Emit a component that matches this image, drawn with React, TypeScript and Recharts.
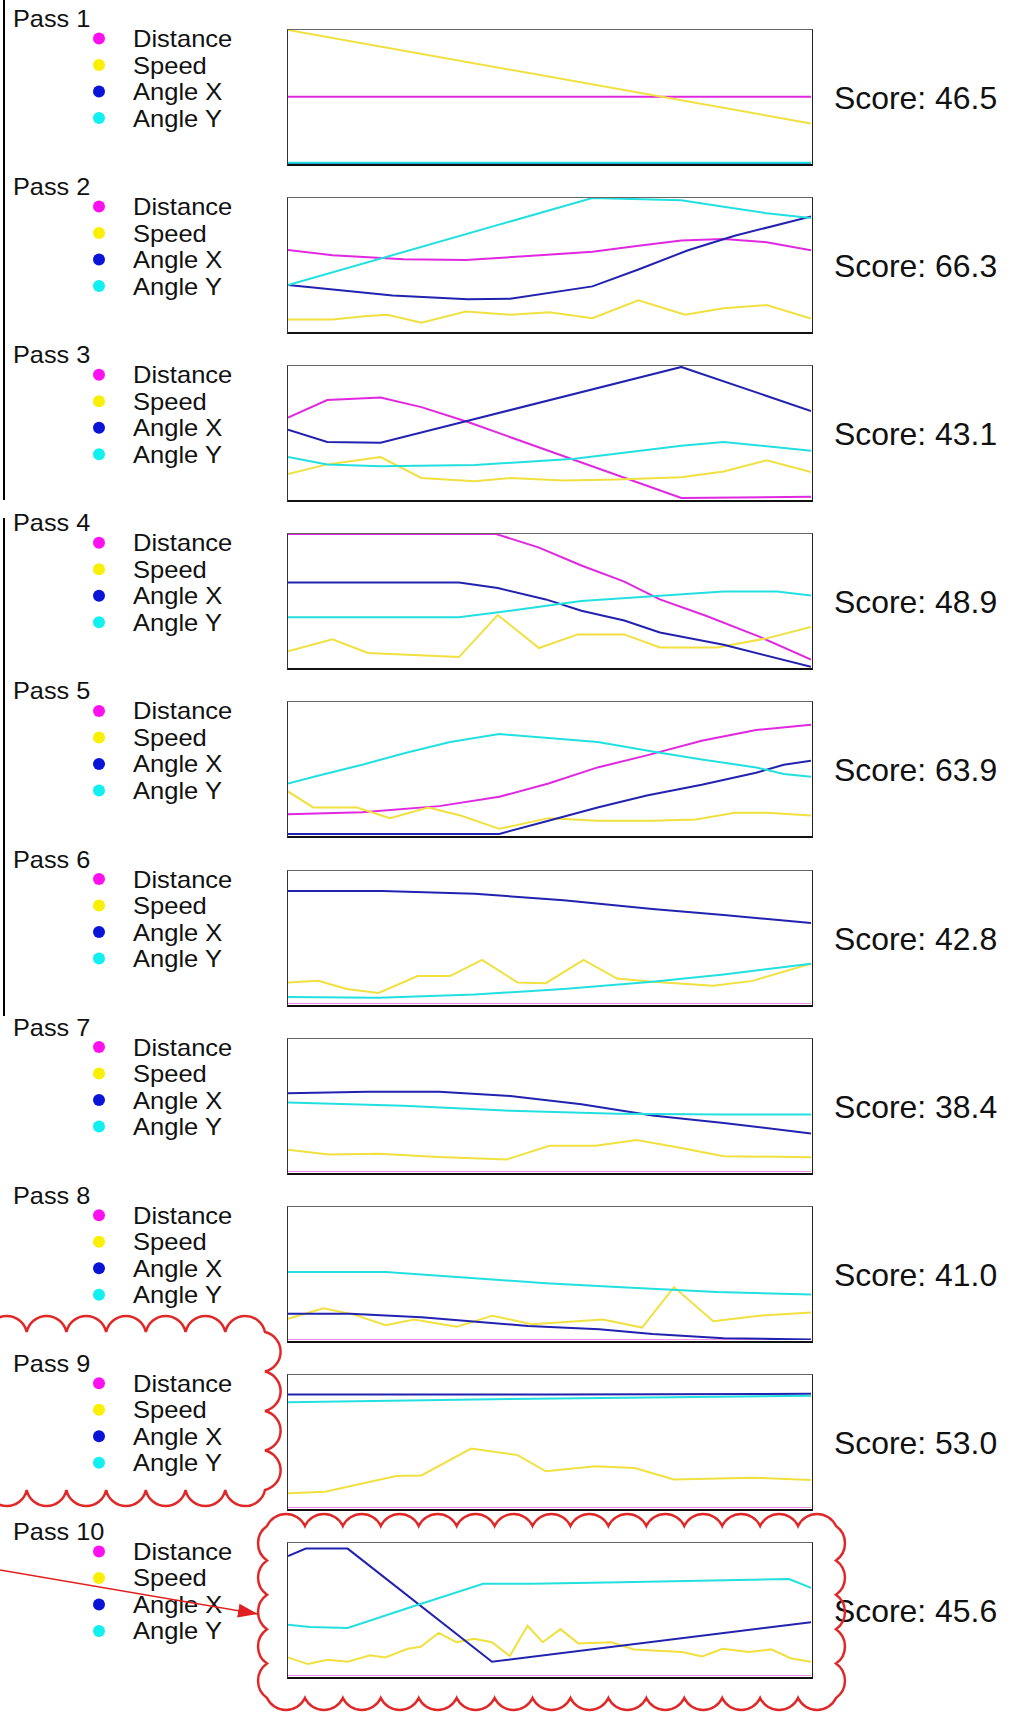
import React from 'react'
import { LineChart, Line, XAxis, YAxis } from 'recharts'

type Pt = [number, number]

// time is in percent of the pass, values are normalised 0..1
const passLabels = ['Pass 1', 'Pass 2', 'Pass 3', 'Pass 4', 'Pass 5', 'Pass 6', 'Pass 7', 'Pass 8', 'Pass 9', 'Pass 10']
const scores = [46.5, 66.3, 43.1, 48.9, 63.9, 42.8, 38.4, 41.0, 53.0, 45.6]
const seriesNames = ['Distance', 'Speed', 'Angle X', 'Angle Y']

const p1Distance: Pt[] = [[0, 0.5], [100, 0.5]]
const p1Speed: Pt[] = [[0, 1.0], [100, 0.3]]
const p1AngleX: Pt[] = [[0, 0], [100, 0]]
const p1AngleY: Pt[] = [[0, 0.005], [100, 0.005]]

const p2Distance: Pt[] = [[0, 0.61], [8.5, 0.572], [22.1, 0.541], [34, 0.536], [45.9, 0.565], [58.2, 0.597], [66.3, 0.638], [75.2, 0.681], [83.3, 0.693], [91.5, 0.669], [100, 0.609]]
const p2Speed: Pt[] = [[0, 0.089], [8.5, 0.089], [14.6, 0.114], [19, 0.126], [25.5, 0.065], [34, 0.15], [42.5, 0.126], [50, 0.145], [58.2, 0.1], [67, 0.234], [75.9, 0.126], [83.3, 0.174], [91.5, 0.198], [100, 0.097]]
const p2AngleX: Pt[] = [[0, 0.348], [20, 0.27], [34.4, 0.242], [42.5, 0.246], [58.2, 0.338], [67, 0.464], [76.5, 0.609], [85.4, 0.717], [100, 0.862]]
const p2AngleY: Pt[] = [[0, 0.348], [58.2, 1.0], [75.2, 0.983], [83.3, 0.935], [91.5, 0.886], [100, 0.85]]

const p3Distance: Pt[] = [[0, 0.614], [7.5, 0.745], [17.7, 0.764], [25.5, 0.692], [34.4, 0.58], [75.2, 0.012], [100, 0.02]]
const p3Speed: Pt[] = [[0, 0.19], [7.5, 0.263], [17.7, 0.318], [25.5, 0.161], [35.7, 0.137], [42.5, 0.161], [52.7, 0.142], [62.9, 0.15], [75.2, 0.166], [83.3, 0.21], [91.5, 0.294], [100, 0.205]]
const p3AngleX: Pt[] = [[0, 0.523], [7.5, 0.431], [17.7, 0.426], [34.4, 0.59], [75.2, 0.993], [100, 0.663]]
const p3AngleY: Pt[] = [[0, 0.318], [7.5, 0.263], [17.7, 0.25], [35.7, 0.258], [54.8, 0.306], [75.2, 0.402], [83.3, 0.431], [100, 0.366]]

const p4Distance: Pt[] = [[0, 1], [39.8, 1], [48, 0.898], [56.1, 0.764], [64.3, 0.643], [71.1, 0.51], [79.9, 0.388], [90.1, 0.231], [100, 0.06]]
const p4Speed: Pt[] = [[0, 0.121], [8.5, 0.211], [15.3, 0.109], [32.7, 0.078], [40.1, 0.393], [48, 0.146], [55.4, 0.248], [64.3, 0.248], [71.1, 0.15], [82, 0.15], [91.5, 0.218], [100, 0.303]]
const p4AngleX: Pt[] = [[0, 0.636], [32.7, 0.636], [40.1, 0.595], [49.3, 0.51], [56.1, 0.425], [64.3, 0.352], [71.1, 0.262], [83.3, 0.17], [100, 0.005]]
const p4AngleY: Pt[] = [[0, 0.376], [32.7, 0.376], [42.5, 0.425], [56.1, 0.498], [69.7, 0.534], [83.3, 0.57], [93.5, 0.57], [100, 0.539]]

const p5Distance: Pt[] = [[0, 0.16], [14.2, 0.175], [28.9, 0.22], [40.4, 0.29], [49.8, 0.39], [59.2, 0.51], [68.6, 0.6], [79.1, 0.71], [89.5, 0.79], [100, 0.83]]
const p5Speed: Pt[] = [[0, 0.33], [4.8, 0.21], [13.2, 0.21], [19.5, 0.13], [26.8, 0.21], [33, 0.15], [40.4, 0.05], [49.8, 0.13], [59.2, 0.11], [69.7, 0.11], [78, 0.12], [85.4, 0.17], [91.6, 0.17], [100, 0.15]]
const p5AngleX: Pt[] = [[0, 0.012], [40.4, 0.012], [49.8, 0.11], [59.2, 0.21], [68.6, 0.3], [79.1, 0.38], [89.5, 0.47], [94.8, 0.53], [100, 0.56]]
const p5AngleY: Pt[] = [[0, 0.39], [5.9, 0.45], [14.2, 0.53], [22.6, 0.62], [31, 0.7], [40.4, 0.76], [49.8, 0.73], [59.2, 0.7], [69.7, 0.63], [79.1, 0.57], [89.5, 0.51], [94.8, 0.46], [100, 0.44]]

const p6Distance: Pt[] = [[0, 0], [100, 0]]
const p6Speed: Pt[] = [[0, 0.165], [5.8, 0.177], [11.2, 0.116], [17.3, 0.087], [24.8, 0.213], [31, 0.213], [37.1, 0.334], [43.9, 0.165], [49.3, 0.16], [56.5, 0.334], [62.9, 0.194], [69.7, 0.17], [81.3, 0.14], [88.8, 0.177], [100, 0.305]]
const p6AngleX: Pt[] = [[0, 0.85], [18, 0.85], [35.7, 0.83], [52.7, 0.78], [69.7, 0.716], [83.3, 0.67], [100, 0.61]]
const p6AngleY: Pt[] = [[0, 0.056], [17.3, 0.05], [35.7, 0.075], [52.7, 0.116], [69.7, 0.17], [83.3, 0.225], [100, 0.305]]

const p7Distance: Pt[] = [[0, 0], [100, 0]]
const p7Speed: Pt[] = [[0, 0.171], [7.8, 0.134], [17.3, 0.141], [28.9, 0.117], [41.8, 0.098], [50, 0.2], [58.8, 0.2], [66.7, 0.244], [75.2, 0.183], [83.3, 0.122], [100, 0.115]]
const p7AngleX: Pt[] = [[0, 0.593], [15.3, 0.605], [28.9, 0.605], [42.5, 0.573], [56.1, 0.512], [69.7, 0.427], [83.3, 0.37], [100, 0.293]]
const p7AngleY: Pt[] = [[0, 0.524], [22.1, 0.5], [42.5, 0.463], [62.9, 0.44], [83.3, 0.434], [100, 0.434]]

const p8Distance: Pt[] = [[0, 0], [100, 0]]
const p8Speed: Pt[] = [[0, 0.162], [6.8, 0.242], [12.6, 0.194], [18.7, 0.114], [24.1, 0.157], [32.3, 0.104], [39.1, 0.186], [46.6, 0.121], [60.2, 0.157], [67.7, 0.097], [73.8, 0.4], [81.3, 0.145], [90.1, 0.186], [100, 0.21]]
const p8AngleX: Pt[] = [[0, 0.2], [11.9, 0.2], [25.5, 0.174], [45.9, 0.109], [59.5, 0.085], [69.7, 0.048], [83.3, 0.017], [100, 0.007]]
const p8AngleY: Pt[] = [[0, 0.513], [18.7, 0.513], [35.7, 0.467], [49.3, 0.428], [62.9, 0.4], [82, 0.363], [100, 0.344]]

const p9Distance: Pt[] = [[0, 0], [100, 0]]
const p9Speed: Pt[] = [[0, 0.114], [7.1, 0.126], [20.7, 0.243], [25.5, 0.248], [35, 0.449], [43.9, 0.4], [49.3, 0.279], [58.8, 0.316], [66.3, 0.303], [73.8, 0.218], [88.8, 0.231], [100, 0.214]]
const p9AngleX: Pt[] = [[0, 0.854], [50, 0.854], [100, 0.859]]
const p9AngleY: Pt[] = [[0, 0.796], [42.5, 0.82], [100, 0.845]]

const p10Distance: Pt[] = [[0, 0], [100, 0]]
const p10Speed: Pt[] = [[0, 0.142], [3.8, 0.093], [7.6, 0.125], [11.4, 0.11], [15.7, 0.159], [18.6, 0.142], [22.9, 0.208], [25.4, 0.223], [28.8, 0.326], [32.2, 0.257], [35.6, 0.282], [39, 0.257], [42.4, 0.154], [45.8, 0.38], [48.7, 0.257], [52.1, 0.355], [55.5, 0.248], [61.9, 0.257], [66.1, 0.203], [75.4, 0.184], [79.2, 0.15], [83.1, 0.208], [88.1, 0.184], [92.4, 0.203], [96.2, 0.135], [100, 0.11]]
const p10AngleX: Pt[] = [[0, 0.902], [3.4, 0.958], [11.4, 0.958], [39, 0.11], [100, 0.407]]
const p10AngleY: Pt[] = [[0, 0.387], [4.2, 0.37], [11.4, 0.363], [23.7, 0.522], [37.3, 0.694], [46.6, 0.694], [63.6, 0.706], [95.8, 0.73], [100, 0.664]]

const panels = [
  [p1Distance, p1Speed, p1AngleX, p1AngleY],
  [p2Distance, p2Speed, p2AngleX, p2AngleY],
  [p3Distance, p3Speed, p3AngleX, p3AngleY],
  [p4Distance, p4Speed, p4AngleX, p4AngleY],
  [p5Distance, p5Speed, p5AngleX, p5AngleY],
  [p6Distance, p6Speed, p6AngleX, p6AngleY],
  [p7Distance, p7Speed, p7AngleX, p7AngleY],
  [p8Distance, p8Speed, p8AngleX, p8AngleY],
  [p9Distance, p9Speed, p9AngleX, p9AngleY],
  [p10Distance, p10Speed, p10AngleX, p10AngleY],
]

const lineColors = ['#e028e0', '#f0e040', '#2222b0', '#22e0e0']
const dotColors = ['#ff10f0', '#f8f000', '#0a14d8', '#10f0f0']

const FONT = 'Arial, "Liberation Sans", Helvetica, sans-serif'
const BOX_X = 287
const BOX_W = 526
const BOX_H = 137
const panelTop = (i: number) => 29 + 168.1 * i

const toRows = (pts: Pt[]) => pts.map(([t, v]) => ({ t, v }))

// scalloped "cloud" outline used for the two red call-outs
function cloudPath(x0: number, y0: number, x1: number, y1: number, nx: number, ny: number, r: number) {
  const dx = (x1 - x0) / nx
  const dy = (y1 - y0) / ny
  let d = `M${x0},${y0}`
  for (let i = 1; i <= nx; i++) d += ` A${r},${r} 0 0 1 ${x0 + dx * i},${y0}`
  for (let j = 1; j <= ny; j++) d += ` A${r},${r} 0 0 1 ${x1},${y0 + dy * j}`
  for (let i = 1; i <= nx; i++) d += ` A${r},${r} 0 0 1 ${x1 - dx * i},${y1}`
  for (let j = 1; j <= ny; j++) d += ` A${r},${r} 0 0 1 ${x0},${y1 - dy * j}`
  return d + ' Z'
}

// reference text is a little wider than Arial at the same height
const Wide = ({ x, y, size, sx, children }: { x: number; y: number; size: number; sx: number; children: React.ReactNode }) => (
  <text transform={`translate(${x},${y}) scale(${sx},1)`} fontSize={size} fontFamily={FONT} fill="#111">
    {children}
  </text>
)

function Panel({ index }: { index: number }) {
  const series = panels[index]
  return (
    <div
      style={{
        position: 'absolute',
        left: BOX_X,
        top: panelTop(index),
        width: BOX_W,
        height: BOX_H,
        boxSizing: 'border-box',
        borderTop: '1.5px solid #666',
        borderLeft: '1.5px solid #333',
        borderRight: '1.5px solid #222',
        borderBottom: '2px solid #111',
        overflow: 'hidden',
        background: '#fff',
      }}
    >
      <LineChart width={BOX_W - 3} height={BOX_H - 3.5} margin={{ top: 0, right: 0, bottom: 0, left: 0 }}>
        <XAxis type="number" dataKey="t" domain={[0, 100]} hide />
        <YAxis type="number" domain={[0, 1]} hide />
        {series.map((pts, k) => (
          <Line
            key={k}
            data={toRows(pts)}
            dataKey="v"
            type="linear"
            stroke={lineColors[k]}
            strokeWidth={2}
            dot={false}
            activeDot={false}
            isAnimationActive={false}
          />
        ))}
      </LineChart>
    </div>
  )
}

export default function App() {
  return (
    <div style={{ position: 'absolute', left: 0, top: 0, width: 1013, height: 1724, background: '#fff', fontFamily: FONT, overflow: 'hidden' }}>
      {passLabels.map((_, i) => (
        <Panel key={i} index={i} />
      ))}
      <svg width={1013} height={1724} style={{ position: 'absolute', left: 0, top: 0, pointerEvents: 'none' }}>
        <defs>
          <marker id="arrowHead" markerUnits="userSpaceOnUse" markerWidth={22} markerHeight={16} refX={20} refY={8} orient="auto">
            <path d="M0,1 L20,8 L0,15 Z" fill="#e02020" />
          </marker>
        </defs>
        <rect x={3} y={0} width={2} height={500} fill="#000" />
        <rect x={3} y={518} width={2} height={498} fill="#000" />
        {passLabels.map((label, i) => {
          const T = panelTop(i)
          return (
            <g key={label}>
              <Wide x={13} y={T - 2} size={23} sx={1.1}>{label}</Wide>
              {seriesNames.map((name, k) => (
                <g key={name}>
                  <circle cx={99} cy={T + 9.5 + 26.5 * k} r={6} fill={dotColors[k]} />
                  <Wide x={133} y={T + 18 + 26.5 * k} size={23} sx={1.11}>{name}</Wide>
                </g>
              ))}
              <Wide x={834} y={T + 80} size={31} sx={1.03}>{`Score: ${scores[i].toFixed(1)}`}</Wide>
            </g>
          )
        })}
        <path d={cloudPath(-13, 1332, 265, 1490, 7, 4, 20.3)} fill="none" stroke="#e02828" strokeWidth={2.5} />
        <path d={cloudPath(267, 1526, 836, 1698, 15, 5, 21)} fill="none" stroke="#e02828" strokeWidth={2.5} />
        <line x1={0} y1={1570} x2={258} y2={1614} stroke="#e02020" strokeWidth={1.5} markerEnd="url(#arrowHead)" />
      </svg>
    </div>
  )
}
